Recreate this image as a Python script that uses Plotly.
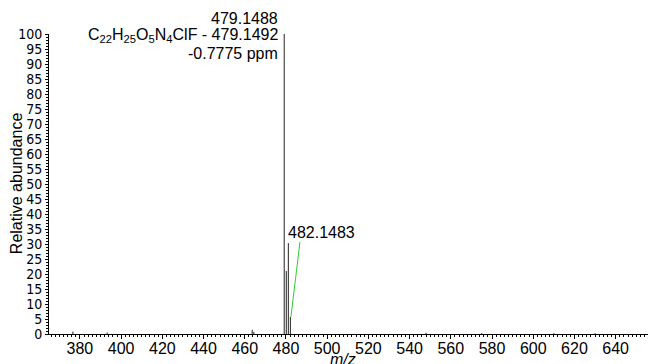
import plotly.graph_objects as go

# Data
mz = [376.6, 393.2, 463.6, 464.4, 479.1488, 480.1520, 481.1466, 482.1483, 548.0, 575.0, 610.0, 630.0]
intensity = [0.8, 0.5, 1.4, 0.7, 100.0, 21.0, 30.3, 5.7, 0.4, 0.3, 0.3, 0.3]

x_ticks = list(range(380, 641, 20))
y_ticks = list(range(0, 101, 5))

x_title = "<i>m/z</i>"
y_title = "Relative abundance"
main_label = "479.1488"
formula_label = "C<sub>22</sub>H<sub>25</sub>O<sub>5</sub>N<sub>4</sub>ClF - 479.1492"
ppm_label = "-0.7775 ppm"
iso_label = "482.1483"

xs, ys = [], []
for m, v in zip(mz, intensity):
    xs += [m, m, None]
    ys += [0, v, None]

fig = go.Figure()
fig.add_trace(go.Scatter(x=xs, y=ys, mode="lines",
                         line=dict(color="#222222", width=1),
                         hoverinfo="skip", showlegend=False))

font_main = "Liberation Sans, Arial, Helvetica, sans-serif"
font_narrow = "Liberation Sans Narrow, Arial Narrow, DejaVu Sans Condensed, Liberation Sans, sans-serif"

fig.update_layout(
    width=652, height=364,
    margin=dict(l=49, r=4, t=34, b=30),
    paper_bgcolor="white", plot_bgcolor="white",
    showlegend=False,
    font=dict(family=font_main, color="black", size=16),
    xaxis=dict(
        range=[365.0, 655.7], automargin=False,
        tickvals=x_ticks, ticktext=[str(t) for t in x_ticks],
        ticks="outside", ticklen=4, tickwidth=1, tickcolor="black",
        minor=dict(dtick=2, ticks="outside", ticklen=2, tickcolor="black", tickwidth=1),
        showline=True, linecolor="black", linewidth=1,
        showgrid=False, zeroline=False,
        tickfont=dict(size=16, family=font_main),
        ticklabelstandoff=-4,
    ),
    yaxis=dict(
        range=[0, 100], automargin=False,
        tickvals=y_ticks, ticktext=[str(t) for t in y_ticks],
        ticks="outside", ticklen=3, tickwidth=1, tickcolor="black",
        minor=dict(dtick=1, ticks="outside", ticklen=2, tickcolor="black", tickwidth=1),
        showline=True, linecolor="black", linewidth=1,
        showgrid=False, zeroline=False,
        tickfont=dict(size=14, family=font_narrow),
    ),
)

# axis titles
fig.add_annotation(x=0.49, y=-0.085, xref="paper", yref="paper", text=x_title, showarrow=False,
                   xanchor="center", yanchor="middle", font=dict(size=16))
fig.add_annotation(x=-0.055, y=0.503, xref="paper", yref="paper", text=y_title, showarrow=False,
                   textangle=-90, xanchor="center", yanchor="middle", font=dict(size=16))

# peak labels
fig.add_annotation(x=477.1, y=1.052, xref="x", yref="paper", text=main_label, showarrow=False,
                   xanchor="right", yanchor="middle", font=dict(size=16))
fig.add_annotation(x=477.1, y=99.4, text=formula_label, showarrow=False,
                   xanchor="right", yanchor="middle", font=dict(size=16))
fig.add_annotation(x=477.1, y=93.4, text=ppm_label, showarrow=False,
                   xanchor="right", yanchor="middle", font=dict(size=16))
fig.add_annotation(x=480.0, y=34.0, text=iso_label, showarrow=False,
                   xanchor="left", yanchor="middle", font=dict(size=16))

fig.add_shape(type="line", x0=486.8, y0=30.7, x1=482.4, y1=5.7,
              line=dict(color="#33cc33", width=1), xref="x", yref="y")

fig.write_html("out.html", config={"displayModeBar": False},
               post_script="document.body.style.margin='0px';")
